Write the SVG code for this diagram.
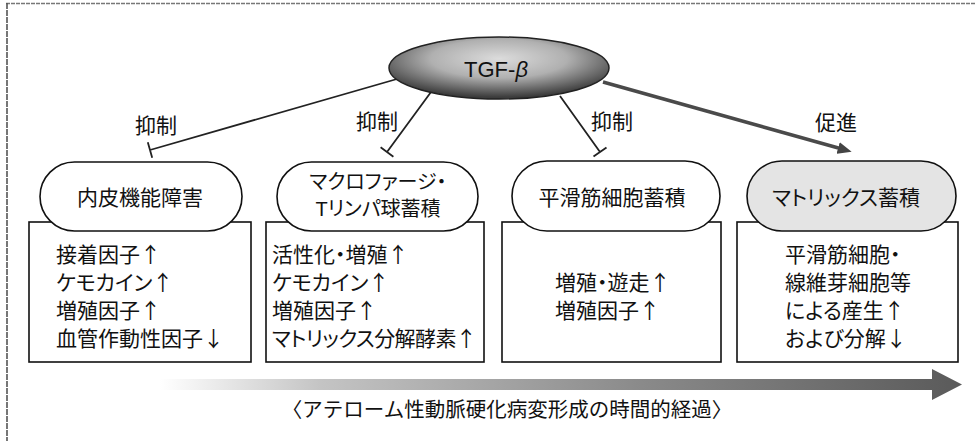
<svg xmlns="http://www.w3.org/2000/svg" width="976" height="441" viewBox="0 0 976 441">
<defs>
<radialGradient id="eg" cx="50%" cy="35%" r="62%">
<stop offset="0" stop-color="#dcdcdc"/>
<stop offset="0.5" stop-color="#b0b0b0"/>
<stop offset="1" stop-color="#3c3c3c"/>
</radialGradient>
<linearGradient id="ag" x1="0" y1="0" x2="1" y2="0">
<stop offset="0" stop-color="#ffffff"/>
<stop offset="0.2" stop-color="#c4c4c4"/>
<stop offset="0.6" stop-color="#8a8a8a"/>
<stop offset="1" stop-color="#5a5a5a"/>
</linearGradient>
<marker id="arr" viewBox="0 0 14 12" refX="4" refY="6" markerWidth="14" markerHeight="12" orient="auto" markerUnits="userSpaceOnUse">
<path d="M0,0 L14,6 L0,12 z" fill="#444"/>
</marker>
<style>
text{font-family:"Liberation Sans","Noto Sans CJK JP",sans-serif;fill:#111;font-feature-settings:"palt"}
.ar{font-family:"Noto Sans CJK JP",sans-serif;font-feature-settings:normal}
.lbl{font-size:21px}
.pt{font-size:21px;text-anchor:middle}
.bt{font-size:21px}
.cap{font-size:20.5px;text-anchor:middle;font-feature-settings:normal}
.pill{fill:#fff;stroke:#111;stroke-width:1.6}
.box{fill:#fff;stroke:#111;stroke-width:1.6}
.inh{stroke:#222;stroke-width:1.8;fill:none}
</style>
</defs>
<line x1="6" y1="3.5" x2="976" y2="3.5" stroke="#777" stroke-width="1.5" stroke-dasharray="4 1"/>
<line x1="7" y1="3" x2="7" y2="441" stroke="#555" stroke-width="1.6" stroke-dasharray="6 1"/>

<g id="connectors">
<path class="inh" d="M397,79 L150,150 M152.2,157.7 L147.8,142.3"/>
<path class="inh" d="M431,92 L387,152 M393.4,156.7 L380.6,147.3"/>
<path class="inh" d="M560,96 L600,152 M606.5,147.4 L593.5,156.6"/>
<path d="M603,82 L842,149" stroke="#4a4a4a" stroke-width="3.5" fill="none" marker-end="url(#arr)"/>
<text class="lbl" x="135" y="133">抑制</text>
<text class="lbl" x="356" y="129">抑制</text>
<text class="lbl" x="591" y="129">抑制</text>
<text class="lbl" x="815" y="130">促進</text>
</g>

<g id="tgf">
<ellipse cx="499" cy="68" rx="110" ry="31" fill="url(#eg)" stroke="#222" stroke-width="1.5"/>
<text x="496" y="77" font-size="22" text-anchor="middle">TGF-<tspan font-style="italic">β</tspan></text>
</g>

<g id="n1">
<rect class="box" x="29" y="222" width="222" height="140"/>
<rect class="pill" x="40" y="162" width="202" height="69" rx="34.5"/>
<text class="pt" x="140" y="205">内皮機能障害</text>
<text class="bt" x="56" y="262">接着因子<tspan class="ar">↑</tspan></text>
<text class="bt" x="56" y="290">ケモカイン<tspan class="ar">↑</tspan></text>
<text class="bt" x="56" y="318">増殖因子<tspan class="ar">↑</tspan></text>
<text class="bt" x="56" y="346">血管作動性因子<tspan class="ar">↓</tspan></text>
</g>

<g id="n2">
<rect class="box" x="266" y="222" width="218" height="140"/>
<rect class="pill" x="277" y="162" width="201" height="69" rx="34.5"/>
<text class="pt" x="378" y="189" style="font-size:20px">マクロファージ・</text>
<text class="pt" x="378" y="216" style="font-size:20px">Tリンパ球蓄積</text>
<text class="bt" x="272" y="262">活性化・増殖<tspan class="ar">↑</tspan></text>
<text class="bt" x="272" y="290">ケモカイン<tspan class="ar">↑</tspan></text>
<text class="bt" x="272" y="318">増殖因子<tspan class="ar">↑</tspan></text>
<text class="bt" x="272" y="346" style="letter-spacing:-0.6px">マトリックス分解酵素<tspan class="ar">↑</tspan></text>
</g>

<g id="n3">
<rect class="box" x="502" y="222" width="219" height="140"/>
<rect class="pill" x="512" y="161" width="208" height="70" rx="35"/>
<text class="pt" x="612" y="205">平滑筋細胞蓄積</text>
<text class="bt" x="555" y="290">増殖・遊走<tspan class="ar">↑</tspan></text>
<text class="bt" x="555" y="318">増殖因子<tspan class="ar">↑</tspan></text>
</g>

<g id="n4">
<rect class="box" x="737" y="222" width="221" height="140"/>
<rect class="pill" x="747" y="161" width="209" height="70" rx="35" style="fill:#e4e4e4"/>
<text class="pt" x="846" y="205">マトリックス蓄積</text>
<text class="bt" x="785" y="262">平滑筋細胞・</text>
<text class="bt" x="785" y="290">線維芽細胞等</text>
<text class="bt" x="785" y="318">による産生<tspan class="ar">↑</tspan></text>
<text class="bt" x="785" y="346">および分解<tspan class="ar">↓</tspan></text>
</g>

<g id="timeline">
<path d="M160,379 L932,379 L932,369 L962,384.5 L932,400 L932,390 L160,390 z" fill="url(#ag)"/>
<text class="cap" x="507" y="417">〈アテローム性動脈硬化病変形成の時間的経過〉</text>
</g>
</svg>
